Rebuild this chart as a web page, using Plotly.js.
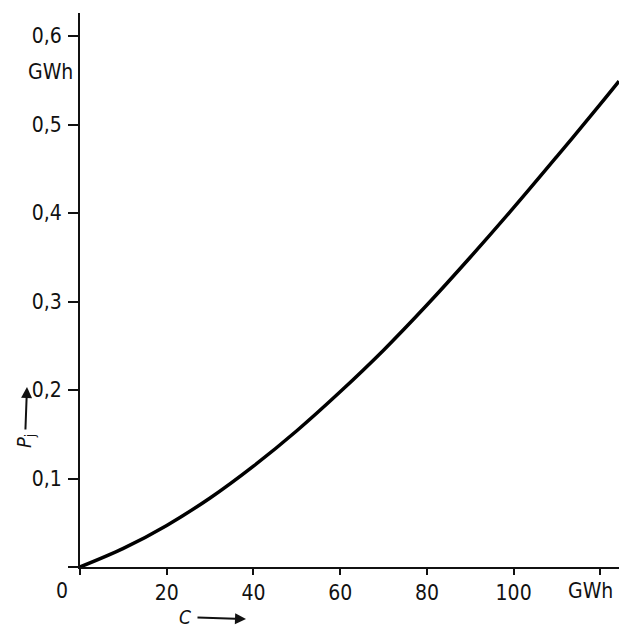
<!DOCTYPE html>
<html>
<head>
<meta charset="utf-8">
<script src="https://cdn.plot.ly/plotly-3.0.1.min.js"></script>
<style>html,body{margin:0;padding:0;background:#fff;}#chart{width:619px;height:628px;}</style>
</head>
<body>
<div id="chart"></div>
<script>
// Data (C in GWh, Pj in GWh)
const capacityC = [0, 10, 20, 30, 40, 50, 60, 70, 80, 90, 100, 110, 120, 124.3];
const pjValues  = [0, 0.021, 0.047, 0.078, 0.114, 0.154, 0.198, 0.245, 0.296, 0.350, 0.406, 0.464, 0.523, 0.549];
const xTickVals = [0, 20, 40, 60, 80, 100, 120];
const xTickText = ['', '20', '40', '60', '80', '100', ''];   // "0" and "GWh" drawn as labels below
const yTickVals = [0, 0.1, 0.2, 0.3, 0.4, 0.5, 0.6];
const yTickText = ['', '0,1', '0,2', '0,3', '0,4', '0,5', '0,6'];

const FONT = 'DejaVu Sans Condensed, DejaVu Sans, sans-serif';
const FS = 21;
const L = 80, T = 13, B = 61, W = 619, H = 628;
const pw = W - L, ph = H - T - B;
const px = v => (v - L) / pw;           // pixel -> paper x
const py = v => (H - B - v) / ph;       // pixel -> paper y
const ink = '#111';

const trace = {
  x: capacityC, y: pjValues, type: 'scatter', mode: 'lines',
  line: {color: '#000', width: 3.5, shape: 'spline'},
  hoverinfo: 'skip'
};

const layout = {
  width: W, height: H,
  margin: {l: L, r: 0, t: T, b: B, pad: 0},
  paper_bgcolor: '#fff', plot_bgcolor: '#fff',
  showlegend: false,
  font: {family: FONT, size: FS, color: ink},
  xaxis: {
    range: [0, 124.3], showgrid: false, zeroline: false,
    showline: true, linecolor: ink, linewidth: 2,
    ticks: 'outside', ticklen: 6, tickwidth: 2, tickcolor: ink,
    tickvals: xTickVals, ticktext: xTickText, ticklabelstandoff: 0,
    tickfont: {family: FONT, size: FS, color: ink}
  },
  yaxis: {
    range: [0, 0.626], showgrid: false, zeroline: false,
    showline: true, linecolor: ink, linewidth: 2,
    ticks: 'outside', ticklen: 10, tickwidth: 2, tickcolor: ink,
    tickvals: yTickVals, ticktext: yTickText, ticklabelstandoff: 2,
    tickfont: {family: FONT, size: FS, color: ink}
  },
  annotations: [
    {xref: 'paper', yref: 'paper', x: px(62), y: py(591), xanchor: 'center', yanchor: 'middle',
     text: '0', showarrow: false, font: {family: FONT, size: FS, color: ink}},
    {xref: 'paper', yref: 'paper', x: px(615), y: py(591), xanchor: 'right', yanchor: 'middle',
     text: 'GWh', showarrow: false, font: {family: FONT, size: FS, color: ink}},
    {xref: 'paper', yref: 'paper', x: px(75), y: py(72), xanchor: 'right', yanchor: 'middle',
     text: 'GWh', showarrow: false, font: {family: FONT, size: FS, color: ink}},
    {xref: 'paper', yref: 'paper', x: px(246), y: py(619), text: '<i>C</i>', showarrow: true,
     ax: -61, ay: -2, arrowhead: 2, arrowsize: 1.1, arrowwidth: 2, arrowcolor: ink,
     standoff: 0, startstandoff: 5,
     font: {family: FONT, size: 19, color: ink}},
    {xref: 'paper', yref: 'paper', x: px(27), y: py(387), text: '<i>P</i><sub>j</sub>', showarrow: true,
     textangle: -90, ax: -2, ay: 54, arrowhead: 2, arrowsize: 1.1, arrowwidth: 2, arrowcolor: ink,
     standoff: 0, startstandoff: 3,
     font: {family: FONT, size: 20, color: ink}}
  ]
};

Plotly.newPlot('chart', [trace], layout, {staticPlot: true, displayModeBar: false});
</script>
</body>
</html>
